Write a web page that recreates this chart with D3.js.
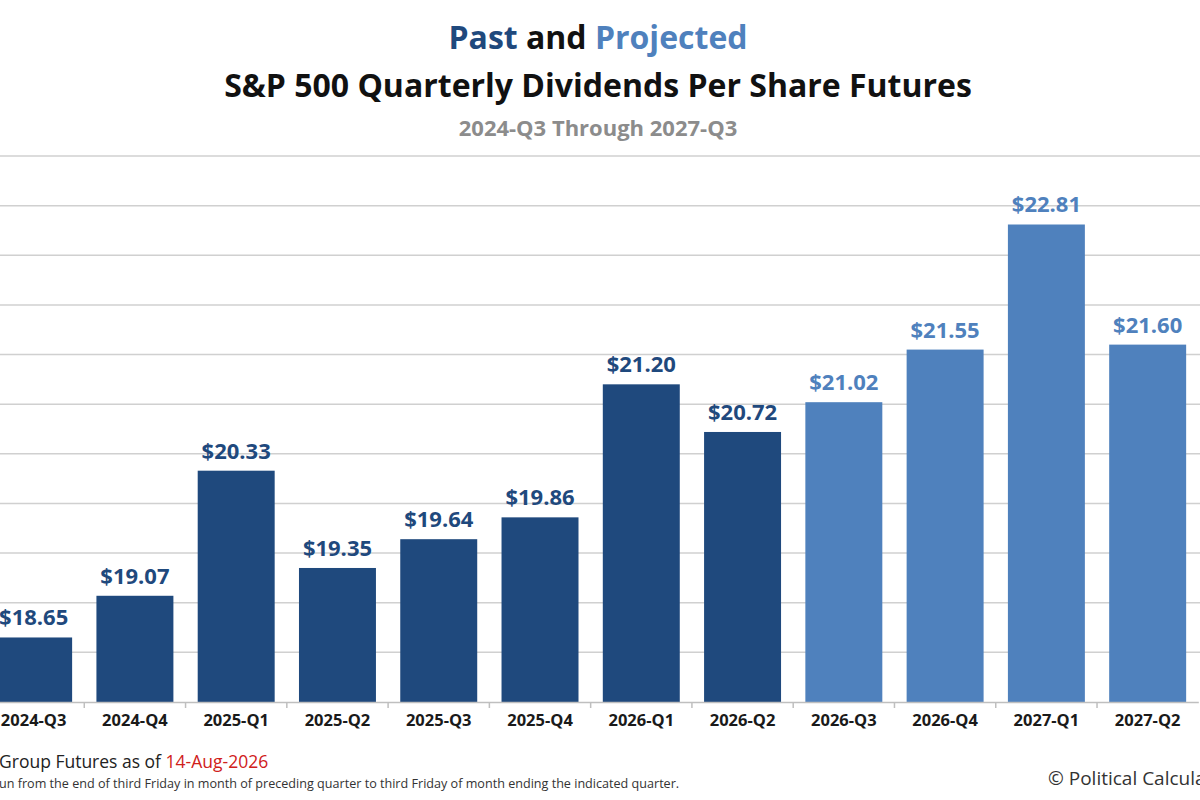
<!DOCTYPE html>
<html><head><meta charset="utf-8">
<script src="https://cdn.jsdelivr.net/npm/d3@7"></script>
<style>body{margin:0;background:#fff;overflow:hidden}svg{display:block}</style>
</head><body>
<script>
const categories=["2024-Q3","2024-Q4","2025-Q1","2025-Q2","2025-Q3","2025-Q4","2026-Q1","2026-Q2","2026-Q3","2026-Q4","2027-Q1","2027-Q2"];
const values=[18.65,19.07,20.33,19.35,19.64,19.86,21.20,20.72,21.02,21.55,22.81,21.60];
const projected=[false,false,false,false,false,false,false,false,true,true,true,true];
const yTicks=[18,18.5,19,19.5,20,20.5,21,21.5,22,22.5,23,23.5];
const PAST="#1f497d",PROJ="#4f81bd";
const font="'Open Sans', sans-serif";
const svg=d3.select("body").append("svg").attr("width",1200).attr("height",800).style("font-family",font);
const x=d3.scaleBand().domain(categories).range([-17,1198.3]).paddingInner(0.24).paddingOuter(0.12);
const y=d3.scaleLinear().domain([18,23.5]).range([702,156]);
svg.append("g").selectAll("line").data(yTicks.slice(1)).join("line")
 .attr("x1",0).attr("x2",1200).attr("y1",d=>y(d)).attr("y2",d=>y(d)).attr("stroke","#d0d0d0").attr("stroke-width",1.5);
svg.append("g").selectAll("rect").data(values).join("rect")
 .attr("x",(d,i)=>x(categories[i])).attr("width",x.bandwidth())
 .attr("y",d=>y(d)).attr("height",d=>y(18)-y(d)).attr("fill",(d,i)=>projected[i]?PROJ:PAST);
svg.append("g").selectAll("text").data(values).join("text")
 .attr("x",(d,i)=>x(categories[i])+x.bandwidth()/2).attr("y",d=>y(d)-12)
 .attr("text-anchor","middle").attr("font-size",22).attr("font-weight","bold")
 .attr("fill",(d,i)=>projected[i]?PROJ:PAST).text(d=>"$"+d.toFixed(2));
const ax=svg.append("g").attr("transform","translate(0,702)")
 .call(d3.axisBottom(x).tickSize(0).tickPadding(12));
ax.select(".domain").attr("stroke","#bfbfbf").attr("stroke-width",1.5);
ax.selectAll("text").attr("font-size",16.5).attr("font-weight","bold").attr("fill","#1a1a1a").style("font-family",font);
const step=x.step();
ax.selectAll(".sep").data(categories).join("line").attr("class","sep")
 .attr("x1",(d)=>x(d)-x.paddingInner()*step/2).attr("x2",(d)=>x(d)-x.paddingInner()*step/2)
 .attr("y1",0).attr("y2",6).attr("stroke","#bfbfbf").attr("stroke-width",1.5);
const t1=svg.append("text").attr("x",598).attr("y",49).attr("text-anchor","middle").attr("font-size",32).attr("font-weight","bold");
t1.append("tspan").attr("fill",PAST).text("Past");
t1.append("tspan").attr("fill","#111").text(" and ");
t1.append("tspan").attr("fill",PROJ).text("Projected");
svg.append("text").attr("x",598).attr("y",97).attr("text-anchor","middle").attr("font-size",32).attr("font-weight","bold").attr("fill","#111").text("S&P 500 Quarterly Dividends Per Share Futures");
svg.append("text").attr("x",598).attr("y",136).attr("text-anchor","middle").attr("font-size",22).attr("font-weight","bold").attr("fill","#8c8c8c").text("2024-Q3 Through 2027-Q3");
const f1=svg.append("text").attr("x",-1).attr("y",768).attr("font-size",17.5).attr("fill","#222");
f1.append("tspan").text("Group Futures as of ");
f1.append("tspan").attr("fill","#d0201a").text("14-Aug-2026");
svg.append("text").attr("x",-1).attr("y",788).attr("font-size",12.6).attr("fill","#333").text("un from the end of third Friday in month of preceding quarter to third Friday of month ending the indicated quarter.");
svg.append("text").attr("x",1048).attr("y",785).attr("font-size",19).attr("fill","#333").text("© Political Calculations");
</script></body></html>
